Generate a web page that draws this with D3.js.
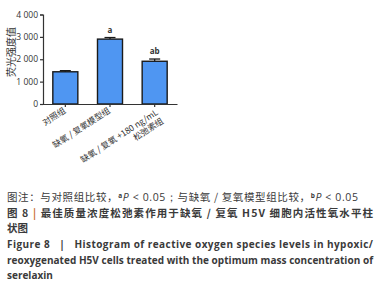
<!DOCTYPE html>
<html><head><meta charset="utf-8">
<script src="https://cdn.jsdelivr.net/npm/d3@7"></script>
<style>body{margin:0;background:#fff}svg{display:block}</style>
</head><body>
<script>
const categories = ["对照组", "缺氧 / 复氧模型组", "缺氧 / 复氧 +180 ng/mL|松弛素组"];
const values = [1440, 2900, 1910];
const errors = [50, 70, 100];
const sigLabels = ["", "a", "ab"];
const yTicks = [0, 1000, 2000, 3000, 4000];
const yTickLabels = ["0", "1 000", "2 000", "3 000", "4 000"];
const yLabel = "荧光强度值";

const W = 385, H = 292;
const svg = d3.select("body").append("svg").attr("width", W).attr("height", H);
const cjk = "'Noto Sans CJK SC', sans-serif";
const lat = "'Open Sans', 'Noto Sans', sans-serif";

const x = d3.scaleBand().domain(categories).range([43, 177]).paddingInner(0.44).paddingOuter(0.22);
const y = d3.scaleLinear().domain([0, 4000]).range([104, 14.5]);

// bars
svg.selectAll("rect.bar").data(values).enter().append("rect")
  .attr("x", (d, i) => x(categories[i]))
  .attr("width", x.bandwidth())
  .attr("y", d => y(d))
  .attr("height", d => y(0) - y(d))
  .attr("fill", "#4f96f2").attr("stroke", "#1a1a1a").attr("stroke-width", 1.4);

// error bars
const eg = svg.append("g").attr("stroke", "#1a1a1a").attr("stroke-width", 1.3);
values.forEach((v, i) => {
  const cx = x(categories[i]) + x.bandwidth() / 2;
  eg.append("line").attr("x1", cx).attr("x2", cx).attr("y1", y(v)).attr("y2", y(v + errors[i]));
  eg.append("line").attr("x1", cx - 5.5).attr("x2", cx + 5.5).attr("y1", y(v + errors[i])).attr("y2", y(v + errors[i]));
  if (sigLabels[i]) {
    svg.append("text").attr("x", cx).attr("y", y(v + errors[i]) - 5)
      .attr("text-anchor", "middle").attr("font-family", lat).attr("font-weight", "bold")
      .attr("font-size", 8).attr("fill", "#333").text(sigLabels[i]);
  }
});

// y axis
const yAxis = svg.append("g").attr("transform", "translate(43,0)")
  .call(d3.axisLeft(y).tickValues(yTicks).tickFormat((d, i) => yTickLabels[i]).tickSize(3).tickPadding(2));
yAxis.select(".domain").attr("stroke", "#333").attr("stroke-width", 1.2);
yAxis.selectAll(".tick line").attr("stroke", "#333").attr("stroke-width", 1.2);
yAxis.selectAll("text").attr("font-family", lat).attr("font-size", 8.5).attr("fill", "#333");

// x axis
const xAxis = svg.append("g").attr("transform", "translate(0,104)")
  .call(d3.axisBottom(x).tickSize(3).tickSizeOuter(0).tickFormat(""));
xAxis.select(".domain").attr("stroke", "#333").attr("stroke-width", 1.2);
xAxis.selectAll(".tick line").attr("stroke", "#333").attr("stroke-width", 1.2);

// x labels rotated
categories.forEach((c, i) => {
  const cx = x(c) + x.bandwidth() / 2;
  const lines = c.split("|");
  const t = svg.append("text")
    .attr("transform", `translate(${cx + (lines.length > 1 ? 4 : 1)},${lines.length > 1 ? 114 : 112}) rotate(-33)`)
    .attr("text-anchor", "end").attr("font-family", cjk).attr("font-size", 8.5).attr("fill", "#333");
  lines.forEach((l, j) => {
    t.append("tspan").attr("x", 0).attr("dy", j === 0 ? 0 : "1.2em").text(l);
  });
});

// y label
svg.append("text").attr("transform", "translate(15,52) rotate(-90)")
  .attr("text-anchor", "middle").attr("font-family", cjk).attr("font-size", 10).attr("fill", "#333").text(yLabel);

// caption
const cap = svg.append("g").attr("font-size", 10.5).attr("fill", "#3a3a3a");
const l1 = cap.append("text").attr("x", 7).attr("y", 201).attr("font-family", cjk)
  .attr("textLength", 351).attr("lengthAdjust", "spacing");
l1.append("tspan").text("图注：与对照组比较，");
l1.append("tspan").attr("font-size", 6.5).attr("dy", -3.5).attr("font-family", lat).attr("font-weight", "bold").text("a");
l1.append("tspan").attr("dy", 3.5).attr("font-style", "italic").attr("font-family", lat).text("P");
l1.append("tspan").attr("font-family", lat).text(" < 0.05；");
l1.append("tspan").text("与缺氧 / 复氧模型组比较，");
l1.append("tspan").attr("font-size", 6.5).attr("dy", -3.5).attr("font-family", lat).attr("font-weight", "bold").text("b");
l1.append("tspan").attr("dy", 3.5).attr("font-style", "italic").attr("font-family", lat).text("P");
l1.append("tspan").attr("font-family", lat).text(" < 0.05");

const l2 = cap.append("text").attr("x", 7).attr("y", 216.5).attr("font-family", cjk).attr("font-weight", "bold")
  .attr("textLength", 366).attr("lengthAdjust", "spacing");
l2.append("tspan").text("图 8 ");
l2.append("tspan").attr("fill", "#c86a2e").text("| ");
l2.append("tspan").text("最佳质量浓度松弛素作用于缺氧 / 复氧 H5V 细胞内活性氧水平柱");
cap.append("text").attr("x", 7).attr("y", 231.5).attr("font-family", cjk).attr("font-weight", "bold").text("状图");

const eng = cap.append("g").attr("font-family", lat).attr("font-weight", "bold").attr("font-size", 10);
eng.append("text").attr("x", 7).attr("y", 248).attr("textLength", 366).attr("lengthAdjust", "spacing")
  .text("Figure 8\u00a0\u00a0\u00a0|\u00a0\u00a0\u00a0Histogram of reactive oxygen species levels in hypoxic/");
eng.append("text").attr("x", 7).attr("y", 263.5).attr("textLength", 366).attr("lengthAdjust", "spacing")
  .text("reoxygenated H5V cells treated with the optimum mass concentration of");
eng.append("text").attr("x", 7).attr("y", 279).text("serelaxin");
</script>
</body></html>
